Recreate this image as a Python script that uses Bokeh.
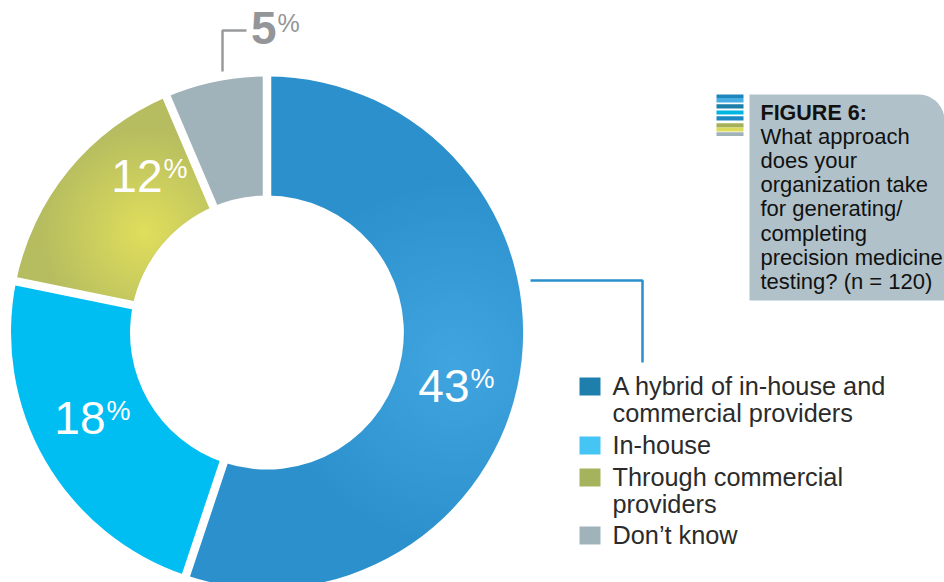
import numpy as np
from bokeh.core.properties import value
from bokeh.embed import file_html
from bokeh.models import Range1d
from bokeh.plotting import figure
from bokeh.resources import INLINE

# Survey responses
categories = ["A hybrid of in-house and\ncommercial providers", "In-house",
              "Through commercial\nproviders", "Don\u2019t know"]
percentages = [43, 18, 12, 5]
title_head = "FIGURE 6:"
title_lines = ["What approach", "does your", "organization take", "for generating/",
               "completing", "precision medicine", "testing? (n = 120)"]

W, H = 944, 582
FONT = value("Liberation Sans")
wedge_colors = ["#2b90cc", "#00bdf2", "#b6bd60", "#a0b2ba"]
swatch_colors = ["#1e7fac", "#45c5f3", "#a5b35c", "#a0b2ba"]


def Y(py):
    """Convert a distance from the top of the page to the y coordinate."""
    return H - py


p = figure(width=W, height=H, x_range=Range1d(0, W), y_range=Range1d(0, H),
           toolbar_location=None, output_backend="svg", min_border=0,
           outline_line_color=None, background_fill_color="white")
p.axis.visible = False
p.grid.visible = False

# Donut geometry, with angles running clockwise from twelve o'clock
CX, CY, R_OUT, R_IN = 266.5, Y(332), 256, 137
shares = np.array(percentages, dtype=float) / sum(percentages)
edges = np.concatenate([[0.0], np.cumsum(shares)]) * 2 * np.pi
starts, ends = edges[:-1], edges[1:]

p.annular_wedge(x=CX, y=CY, inner_radius=R_IN, outer_radius=R_OUT,
                start_angle=np.pi / 2 - starts, end_angle=np.pi / 2 - ends,
                direction="clock", fill_color=wedge_colors, line_color=None)

# Soft radial highlights on the hybrid and commercial slices
xx, yy = np.meshgrid(np.arange(W) + 0.5, np.arange(H) + 0.5)
rr = np.hypot(xx - CX, yy - CY)
tt = np.mod(np.arctan2(xx - CX, yy - CY), 2 * np.pi)
ring = np.clip(rr - R_IN + 0.5, 0, 1) * np.clip(R_OUT - rr + 0.5, 0, 1)
rgba = np.zeros((H, W, 4), dtype=np.uint8)
for i, rgb, reach, strength, rad in [(0, (72, 172, 230), 190, 0.75, 190),
                                     (2, (224, 222, 92), 105, 1.0, 158)]:
    mid = (starts[i] + ends[i]) / 2
    gx, gy = CX + rad * np.sin(mid), CY + rad * np.cos(mid)
    dist = np.hypot(xx - gx, yy - gy)
    alpha = strength * np.clip(1 - dist / reach, 0, 1) * ring
    alpha[(tt < starts[i] - 0.01) | (tt > ends[i] + 0.01)] = 0
    hit = alpha > 0
    rgba[hit, 0], rgba[hit, 1], rgba[hit, 2] = rgb
    rgba[hit, 3] = (alpha[hit] * 255).astype(np.uint8)
p.image_rgba(image=[rgba.view(np.uint32).reshape(H, W)], x=0, y=0, dw=W, dh=H)

# White parallel-sided gaps between the slices
p.segment(x0=CX + (R_IN - 6) * np.sin(starts), y0=CY + (R_IN - 6) * np.cos(starts),
          x1=CX + (R_OUT + 6) * np.sin(starts), y1=CY + (R_OUT + 6) * np.cos(starts),
          line_color="white", line_width=8.5, line_cap="butt")


def put_text(x, base, txt, size, color, align="left", style="normal"):
    """Place one line of text with its baseline at the given page height."""
    p.text(x=[x], y=[Y(base - 0.37 * size)], text=[txt], text_font=FONT,
           text_font_size=f"{size}px", text_font_style=style, text_color=color,
           text_align=align, text_baseline="alphabetic")


def pct_label(number, x, base, color, rise=14.5, style="normal", pct_size=27):
    """Draw a number with a raised percent sign starting right after it."""
    put_text(x, base, str(number), 46, color, align="right", style=style)
    put_text(x + 1, base - rise, "%", pct_size, color)


pct_label(percentages[0], 469, 403, "white")
pct_label(percentages[1], 105, 435, "white")
pct_label(percentages[2], 162, 193, "white")
pct_label(percentages[3], 276, 45, "#939598", rise=13, style="bold", pct_size=25)

# Leader lines
p.line(x=[530, 642, 642], y=[Y(280), Y(280), Y(362)], line_color="#2a8fcb", line_width=2.5)
p.line(x=[222, 222, 246], y=[Y(71), Y(30), Y(30)], line_color="#999a9c", line_width=2.5)

# Legend, with wrapped entries on two lines
swatch_tops = [377, 436, 468, 526]
baselines = [[395, 422], [454], [486, 513], [544]]
for cat, col, top, bases in zip(categories, swatch_colors, swatch_tops, baselines):
    p.quad(left=579, right=600, top=Y(top), bottom=Y(top + 18), fill_color=col, line_color=None)
    for line, base in zip(cat.split("\n"), bases):
        put_text(612, base, line, 25.3, "#2b2b2b")

# Question panel with a rounded top right corner
arc = np.linspace(np.pi / 2, 0, 12)
corner = 26
panel_x = [749, 749] + list(944 - corner + corner * np.cos(arc)) + [944]
panel_y = [Y(300), Y(94)] + list(Y(94 + corner) + corner * np.sin(arc)) + [Y(300)]
p.patch(x=panel_x, y=panel_y, fill_color="#b0c1c9", line_color=None)

# Striped icon beside the panel
stripe_tops = [94, 97.5, 103.7, 110, 115.7, 122.7, 127, 131.7]
stripe_bottoms = [97.5, 102, 108, 114, 120, 127, 131, 135.6]
stripe_colors = ["#1f86bd", "#48ade3", "#1b7fa8", "#00b5e2", "#1d88c2", "#a4b05a", "#dcdc5c", "#a0b1b8"]
p.quad(left=716, right=743, top=[Y(t) for t in stripe_tops],
       bottom=[Y(b) for b in stripe_bottoms], fill_color=stripe_colors, line_color=None)

# Panel text
put_text(760, 120, title_head, 21.5, "#111111", style="bold")
for k, line in enumerate(title_lines):
    put_text(760, 144 + k * 24.2, line, 22, "#111111")

open("out.html", "w").write(file_html(p, INLINE))
